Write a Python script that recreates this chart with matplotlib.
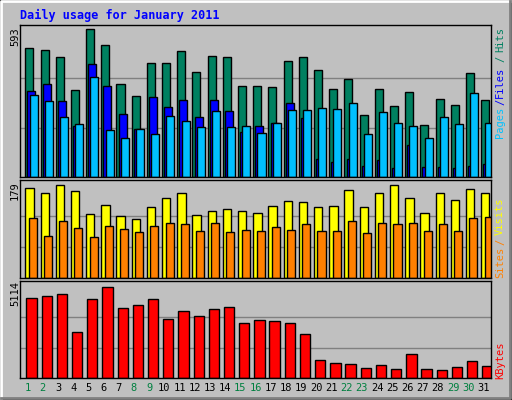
import matplotlib
matplotlib.use("Agg")
import matplotlib.pyplot as plt
from matplotlib.patches import Rectangle

days = list(range(1, 32))
hits = [517,509,481,348,593,529,372,324,457,457,505,420,485,481,364,364,360,465,481,428,352,392,248,352,284,340,208,312,288,416,308]
files = [344,372,304,204,453,364,252,191,320,280,308,240,308,264,179,204,216,296,236,71,59,71,43,67,35,127,39,39,35,43,51]
pages = [328,304,240,212,400,187,155,191,171,244,224,200,264,200,204,175,216,268,268,276,272,296,171,260,216,204,155,240,212,336,216]
visits = [173,164,179,168,123,140,119,113,136,154,164,121,129,133,129,126,138,148,146,136,138,169,136,164,179,154,126,164,150,171,164]
sites = [115,80,109,97,78,101,95,88,101,105,103,91,105,88,93,91,99,93,103,91,91,109,86,105,103,105,91,103,91,115,117]
kbytes = [4495,4607,4720,2585,4439,5114,3934,4102,4439,3315,3765,3484,3877,3990,3091,3259,3203,3091,2473,1011,843,787,562,730,506,1349,506,450,618,955,674]
weekend = {1,2,8,9,15,16,22,23,29,30}

W, H = 512, 400
fig = plt.figure(figsize=(W/100, H/100), dpi=100, facecolor="#c0c0c0")
mono = "DejaVu Sans Mono"

# bevel border
bg = fig.add_axes([0, 0, 1, 1]); bg.set_xlim(0, W); bg.set_ylim(H, 0); bg.axis("off")
bg.plot([1, 1, W-2], [H-2, 1, 1], color="white", lw=2)
bg.plot([1, W-2, W-2], [H-2, H-2, 1], color="#808080", lw=2)
bg.add_patch(Rectangle((0, 0), W-1, H-1, fill=False, ec="black", lw=1))

def pax(top, bot):
    x0, x1 = 20, 491
    return fig.add_axes([x0/W, 1-bot/H, (x1-x0)/W, (bot-top)/H])

def style(ax, mx, hpx, bpx):
    ax.set_facecolor("#c0c0c0")
    ax.set_xlim(0, 31)
    ax.set_ylim(0, mx*hpx/bpx)
    for g in (mx/3, 2*mx/3):
        ax.axhline(g, color="#808080", lw=1, zorder=0)
    ax.set_xticks([]); ax.set_yticks([])
    for s in ax.spines.values():
        s.set_color("black"); s.set_linewidth(1)

x = [d-1 for d in days]
ek = dict(edgecolor="black", linewidth=1, align="edge", zorder=2)

a1 = pax(25, 177)
style(a1, 593, 152, 148)
a1.bar([v+0.35 for v in x], hits, 0.53, color="#008060", **ek)
a1.bar([v+0.49 for v in x], files, 0.53, color="#0000ff", **ek)
a1.bar([v+0.63 for v in x], pages, 0.53, color="#00c0ff", **ek)

a2 = pax(180, 278)
style(a2, 179, 98, 93)
a2.bar([v+0.35 for v in x], visits, 0.55, color="#ffff00", **ek)
a2.bar([v+0.58 for v in x], sites, 0.53, color="#ff8000", **ek)

a3 = pax(281, 378)
style(a3, 5114, 97, 91)
a3.bar([v+0.42 for v in x], kbytes, 0.68, color="#ff0000", **ek)

fs = 7.5
fig.text(20/W, 1-15/H, "Daily usage for January 2011", color="#0000ff", fontsize=8.5,
         fontweight="bold", family=mono, va="center")
for lbl, yc in (("593", 37), ("179", 191), ("5114", 294)):
    fig.text(15/W, 1-yc/H, lbl, rotation=90, fontsize=fs, family=mono, ha="center", va="center")
for lbl, yc, c in (("Hits", 40, "#008060"), ("/", 59, "#008060"), ("Files", 82, "#0000ff"),
                   ("/", 102, "#0000ff"), ("Pages", 122, "#00c0ff"),
                   ("Visits", 216, "#ffff00"), ("/", 242, "#ff8000"), ("Sites", 262, "#ff8000"),
                   ("KBytes", 360, "#ff0000")):
    fig.text(500/W, 1-yc/H, lbl, rotation=90, fontsize=fs, family=mono, color=c, ha="center", va="center")
for d in days:
    xc = 20 + (d-0.5)*471/31
    fig.text(xc/W, 1-388/H, str(d), fontsize=fs, family=mono, ha="center", va="center",
             color="#008040" if d in weekend else "black")

fig.savefig("out.png", dpi=100, facecolor=fig.get_facecolor())
